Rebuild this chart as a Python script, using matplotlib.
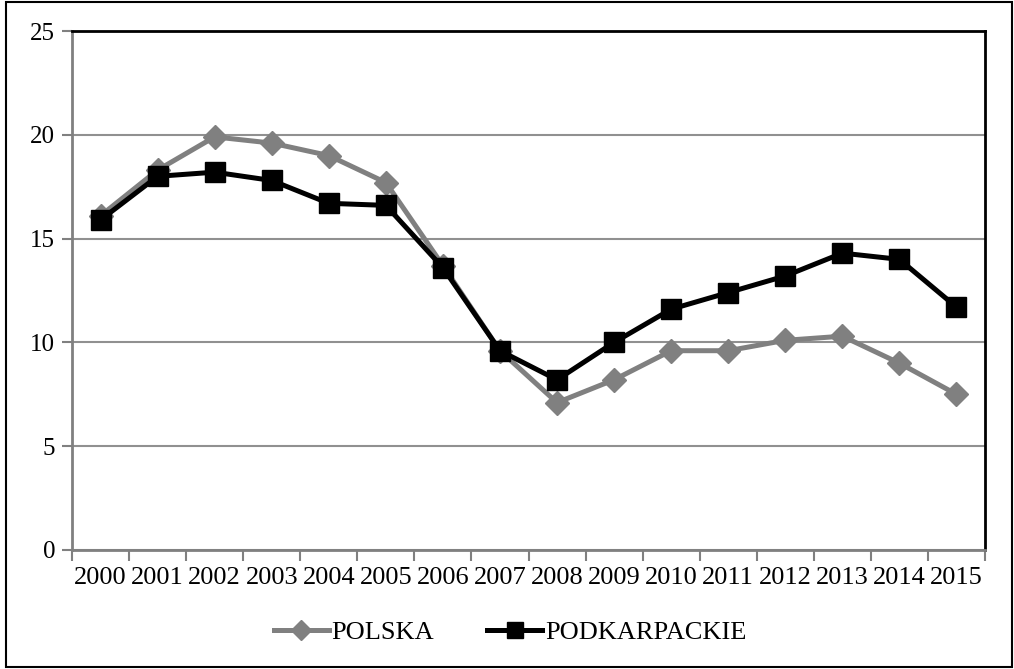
import matplotlib.pyplot as plt
from matplotlib.patches import Rectangle
from matplotlib.ticker import FixedLocator

plt.rcParams['font.family'] = ['Liberation Serif', 'DejaVu Serif']

# Dane
lata = ['2000', '2001', '2002', '2003', '2004', '2005', '2006', '2007',
        '2008', '2009', '2010', '2011', '2012', '2013', '2014', '2015']
polska = [16.1, 18.3, 19.9, 19.6, 19.0, 17.7, 13.7, 9.6,
          7.1, 8.2, 9.6, 9.6, 10.1, 10.3, 9.0, 7.5]
podkarpackie = [15.9, 18.0, 18.2, 17.8, 16.7, 16.6, 13.6, 9.6,
                8.2, 10.0, 11.6, 12.4, 13.2, 14.3, 14.0, 11.7]

szary = '#808080'

fig = plt.figure(figsize=(10.14, 6.69), dpi=100)
ax = fig.add_axes([72 / 1014, 119 / 669, 913 / 1014, 519 / 669])

x = list(range(len(lata)))
ax.plot(x, polska, color=szary, lw=3.6, marker='D', ms=12,
        mec=szary, mfc=szary, label='POLSKA', zorder=3)
ax.plot(x, podkarpackie, color='black', lw=3.6, marker='s', ms=14,
        mec='black', mfc='black', label='PODKARPACKIE', zorder=4)

ax.set_xlim(-0.5, len(lata) - 0.5)
ax.set_ylim(0, 25)
ax.set_yticks([0, 5, 10, 15, 20, 25])

# etykiety w srodku kategorii, kreski na granicach
ax.set_xticks(x)
ax.set_xticklabels(lata, fontsize=19)
ax.tick_params(axis='x', which='major', length=0, pad=12)
ax.xaxis.set_minor_locator(FixedLocator([i - 0.5 for i in range(len(lata) + 1)]))
ax.tick_params(axis='x', which='minor', length=8, width=1.5, color=szary, direction='out')
ax.tick_params(axis='y', length=7, width=1.5, color=szary, labelsize=18, pad=5)

ax.yaxis.grid(True, color='#909090', lw=1.5)
ax.set_axisbelow(True)

ax.spines['left'].set_color(szary)
ax.spines['bottom'].set_color(szary)
ax.spines['left'].set_linewidth(2)
ax.spines['bottom'].set_linewidth(2)
ax.spines['top'].set_color('black')
ax.spines['right'].set_color('black')
ax.spines['top'].set_linewidth(2)
ax.spines['right'].set_linewidth(2)

fig.legend(loc='center', bbox_to_anchor=(510 / 1014, 1 - 632 / 669), ncol=2,
           frameon=False, fontsize=19, handlelength=2.1, columnspacing=2.0,
           handletextpad=0.1, markerscale=0.85)

# ramka wokol wykresu
fig.patches.append(Rectangle((6 / 1014, 2 / 669), 1006 / 1014, 665 / 669,
                             transform=fig.transFigure, fill=False,
                             edgecolor='black', lw=1.5))

plt.savefig('out.png', dpi=100)
